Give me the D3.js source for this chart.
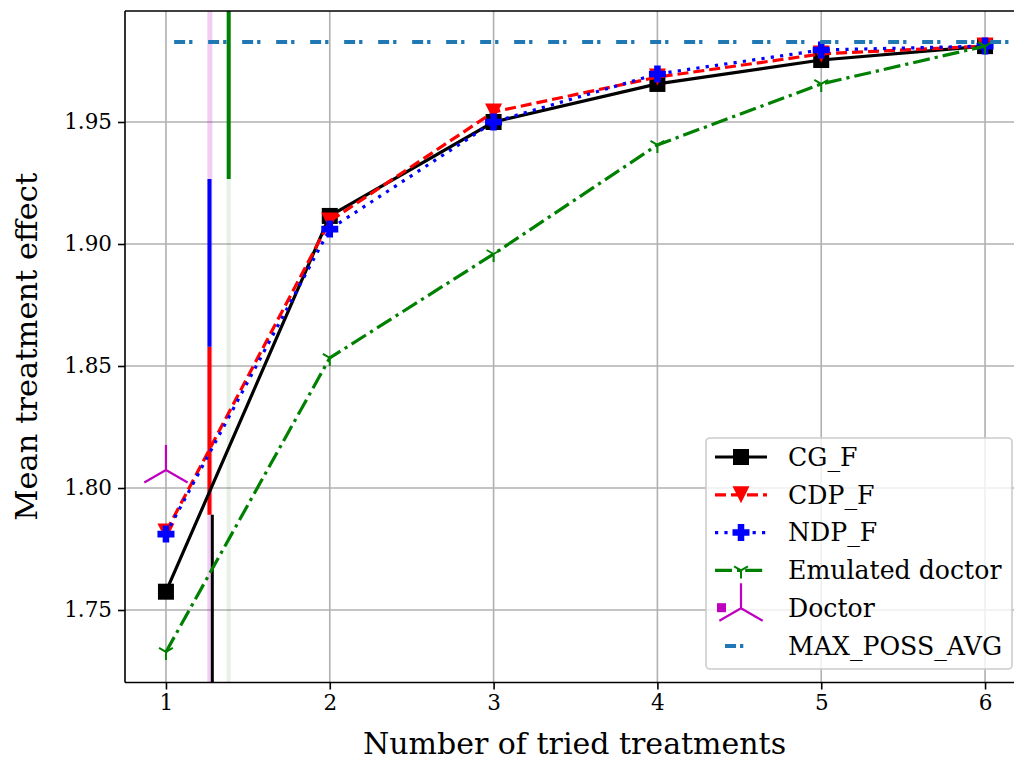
<!DOCTYPE html>
<html><head><meta charset="utf-8">
<script src="https://cdn.jsdelivr.net/npm/d3@7"></script>
<style>body{margin:0;background:#fff}svg{display:block}text{font-family:"DejaVu Serif",serif}</style>
</head><body><svg id="c" width="1014" height="762"></svg>
<script>
const xValues = [1, 2, 3, 4, 5, 6];
const cgF = [1.7575, 1.9115, 1.9500, 1.9656, 1.9754, 1.9811];
const cdpF = [1.7820, 1.9094, 1.9541, 1.9684, 1.9779, 1.9811];
const ndpF = [1.7811, 1.9061, 1.9500, 1.9697, 1.9795, 1.9811];
const emulated = [1.7328, 1.8533, 1.8959, 1.9406, 1.9656, 1.9811];
const doctorX = [1];
const doctorY = [1.8074];
const maxPossAvg = 1.9828;
const maxPossRange = [1.05, 6.3];
const xTicks = [1, 2, 3, 4, 5, 6];
const yTicks = [1.75, 1.80, 1.85, 1.90, 1.95];
// vertical markers: [x, yFracStart, yFracEnd]
const vCG = [1.283, 0, 0.25];
const vCDP = [1.2656, 0.25, 0.5];
const vNDP = [1.2656, 0.5, 0.75];
const vEmu = [1.383, 0.75, 1];
const vDoctorBand = [1.268, 0, 1];
const vEmuBand = [1.383, 0, 1];

const svg = d3.select('#c');
const L = 125, R = 1026, T = 11, B = 682.5;
const x = d3.scaleLinear().domain([0.75, 6.25]).range([L, R]);
const y = d3.scaleLinear().domain([1.72029, 1.99549]).range([B, T]);

svg.append('defs').append('clipPath').attr('id', 'clip')
  .append('rect').attr('x', L).attr('y', T).attr('width', R - L).attr('height', B - T);

// grid
const grid = svg.append('g');
grid.selectAll('.gx').data(xTicks).join('line')
  .attr('x1', d => x(d)).attr('x2', d => x(d)).attr('y1', T).attr('y2', B)
  .attr('stroke', '#b0b0b0').attr('stroke-width', 1.6);
grid.selectAll('.gy').data(yTicks).join('line')
  .attr('y1', d => y(d)).attr('y2', d => y(d)).attr('x1', L).attr('x2', R)
  .attr('stroke', '#b0b0b0').attr('stroke-width', 1.6);

const plot = svg.append('g').attr('clip-path', 'url(#clip)');
const fy = f => B - f * (B - T);
function vline(v, color, w, op) {
  plot.append('line').attr('x1', x(v[0])).attr('x2', x(v[0]))
    .attr('y1', fy(v[1])).attr('y2', fy(v[2]))
    .attr('stroke', color).attr('stroke-width', w).attr('opacity', op);
}
vline(vDoctorBand, '#bf00bf', 5, 0.2);
vline(vEmuBand, '#008000', 4, 0.1);
vline(vCG, '#000', 3, 1);
vline(vCDP, '#ff0000', 4, 1);
vline(vNDP, '#0000ff', 4, 1);
vline(vEmu, '#008000', 4, 1);

// markers
function sq(g, s, c) { g.append('rect').attr('x', -s/2).attr('y', -s/2).attr('width', s).attr('height', s).attr('fill', c); }
function triDown(g, s, c) { const h = s/2; g.append('path').attr('d', `M${-h},${-h}L${h},${-h}L0,${h}Z`).attr('fill', c); }
function plusF(g, s, c) { const h = s/2, a = s/5.2;
  g.append('path').attr('d', `M${-a},${-h}H${a}V${-a}H${h}V${a}H${a}V${h}H${-a}V${a}H${-h}V${-a}H${-a}Z`).attr('fill', c); }
function tri(g, r, c, up, w) {
  const s = up ? 1 : -1;
  const p = `M0,0L0,${-s*r}M0,0L${-r*0.866},${s*r*0.5}M0,0L${r*0.866},${s*r*0.5}`;
  g.append('path').attr('d', p).attr('stroke', c).attr('stroke-width', w).attr('fill', 'none');
}

const series = [
  {name: 'CG_F', vals: cgF, color: '#000000', dash: null, marker: (g) => sq(g, 16, '#000')},
  {name: 'CDP_F', vals: cdpF, color: '#ff0000', dash: '11,5', marker: (g) => triDown(g, 17, '#ff0000')},
  {name: 'NDP_F', vals: ndpF, color: '#0000ff', dash: '3.2,6.2', marker: (g) => plusF(g, 17, '#0000ff')},
  {name: 'Emulated doctor', vals: emulated, color: '#008000', dash: '17,5,3.2,5', marker: (g) => tri(g, 8, '#008000', false, 2)}
];
const line = d3.line().x((d, i) => x(xValues[i])).y(d => y(d));
series.forEach(s => {
  plot.append('path').datum(s.vals).attr('d', line).attr('fill', 'none')
    .attr('stroke', s.color).attr('stroke-width', 3.2).attr('stroke-dasharray', s.dash);
  s.vals.forEach((v, i) => { const g = plot.append('g').attr('transform', `translate(${x(xValues[i])},${y(v)})`); s.marker(g); });
});
// doctor
doctorX.forEach((d, i) => { const g = plot.append('g').attr('transform', `translate(${x(d)},${y(doctorY[i])})`); tri(g, 25, '#bf00bf', true, 2.2); });
// max poss avg
plot.append('line').attr('x1', x(maxPossRange[0])).attr('x2', x(maxPossRange[1]))
  .attr('y1', y(maxPossAvg)).attr('y2', y(maxPossAvg))
  .attr('stroke', '#1f77b4').attr('stroke-width', 4).attr('stroke-dasharray', '11,4,3.3,15.7');

// spines
svg.append('line').attr('x1', L).attr('x2', L).attr('y1', T).attr('y2', B).attr('stroke', '#000').attr('stroke-width', 1.6);
svg.append('line').attr('x1', L).attr('x2', 1014).attr('y1', B).attr('y2', B).attr('stroke', '#000').attr('stroke-width', 1.6);
svg.append('line').attr('x1', L).attr('x2', 1014).attr('y1', T).attr('y2', T).attr('stroke', '#000').attr('stroke-width', 1.6);

// axes
const xAxis = svg.append('g').attr('transform', `translate(0,${B})`)
  .call(d3.axisBottom(x).tickValues(xTicks).tickFormat(d3.format('d')).tickSize(7).tickPadding(5));
const yAxis = svg.append('g').attr('transform', `translate(${L},0)`)
  .call(d3.axisLeft(y).tickValues(yTicks).tickFormat(d3.format('.2f')).tickSize(7).tickPadding(6));
[xAxis, yAxis].forEach(a => {
  a.attr('font-family', 'DejaVu Serif');
  a.select('.domain').remove();
  a.selectAll('.tick line').attr('stroke', '#000').attr('stroke-width', 1.6);
  a.selectAll('.tick text').attr('font-family', 'DejaVu Serif').attr('font-size', 21.5).attr('fill', '#000');
});

svg.append('text').attr('x', (L + R) / 2 - 1).attr('y', 754).attr('text-anchor', 'middle')
  .attr('font-size', 30).text('Number of tried treatments');
svg.append('text').attr('transform', `translate(37,${(T + B) / 2}) rotate(-90)`).attr('text-anchor', 'middle')
  .attr('font-size', 30.5).text('Mean treatment effect');

// legend
const lg = svg.append('g');
lg.append('rect').attr('x', 706).attr('y', 438).attr('width', 306).attr('height', 231).attr('rx', 4)
  .attr('fill', '#fff').attr('fill-opacity', 0.8).attr('stroke', '#cccccc').attr('stroke-width', 1.6);
const entries = ['CG_F', 'CDP_F', 'NDP_F', 'Emulated doctor', 'Doctor', 'MAX_POSS_AVG'];
const ly = i => 457 + i * 37.8;
series.forEach((s, i) => {
  lg.append('line').attr('x1', 715).attr('x2', 767).attr('y1', ly(i)).attr('y2', ly(i))
    .attr('stroke', s.color).attr('stroke-width', 3.2).attr('stroke-dasharray', s.dash);
  const g = lg.append('g').attr('transform', `translate(741,${ly(i)})`); s.marker(g);
});
lg.append('rect').attr('x', 717).attr('y', ly(4) - 5).attr('width', 9).attr('height', 9).attr('fill', '#bf00bf');
tri(lg.append('g').attr('transform', `translate(741,${ly(4)})`), 25, '#bf00bf', true, 2.2);
lg.append('line').attr('x1', 715).attr('x2', 767).attr('y1', ly(5)).attr('y2', ly(5))
  .attr('stroke', '#1f77b4').attr('stroke-width', 4).attr('stroke-dasharray', '0,10,11,4,3.3,15.7');
entries.forEach((t, i) => lg.append('text').attr('x', 788).attr('y', ly(i)).attr('dy', '0.35em')
  .attr('font-size', 25.2).text(t));
</script></body></html>
